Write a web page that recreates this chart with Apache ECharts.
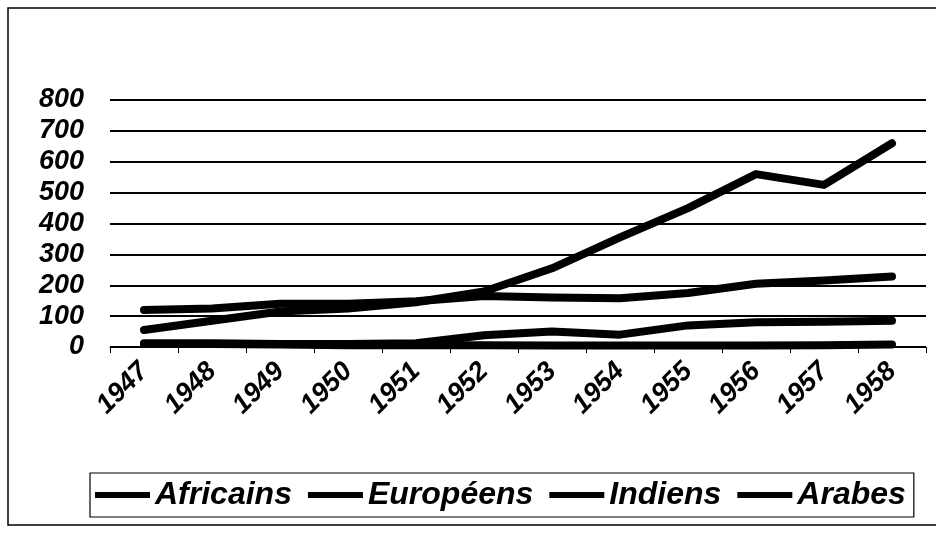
<!DOCTYPE html>
<html>
<head>
<meta charset="utf-8">
<script src="https://cdn.jsdelivr.net/npm/echarts@6/dist/echarts.min.js"></script>
<style>
html,body{margin:0;padding:0;background:#fff;}
#chart{width:936px;height:534px;}
</style>
</head>
<body>
<div id="chart"></div>
<script>
const years = ['1947','1948','1949','1950','1951','1952','1953','1954','1955','1956','1957','1958'];
const africains = [55, 85, 115, 125, 145, 180, 255, 355, 450, 560, 525, 660];
const europeens = [120, 125, 140, 140, 148, 165, 160, 158, 175, 205, 215, 228];
const indiens = [12, 12, 10, 10, 12, 38, 50, 40, 70, 80, 82, 85];
const arabes = [10, 10, 8, 6, 6, 6, 5, 5, 5, 5, 6, 8];
const yTicks = [0, 800, 100];

const FONT = '"Liberation Sans", Arial, sans-serif';
function mk(name, data) {
  return {
    name: name, type: 'line', data: data, showSymbol: false, symbol: 'none',
    lineStyle: { color: '#000', width: 8, cap: 'round', join: 'round' },
    itemStyle: { color: '#000' },
    emphasis: { disabled: true }, animation: false
  };
}
const chart = echarts.init(document.getElementById('chart'));
chart.setOption({
  animation: false,
  backgroundColor: '#fff',
  grid: { left: 110, right: 10, top: 100, bottom: 187 },
  graphic: [{
    type: 'rect', shape: { x: 8, y: 8, width: 940, height: 517 },
    style: { fill: 'none', stroke: '#000', lineWidth: 1.5 }, silent: true
  }],
  legend: {
    left: 90, top: 473,
    padding: [6, 8, 6, 5],
    borderColor: '#000', borderWidth: 1.2,
    itemWidth: 55, itemHeight: 6, itemGap: 16,
    icon: 'rect',
    textStyle: { fontFamily: FONT, fontSize: 32, fontWeight: 'bold', fontStyle: 'italic', color: '#000' },
    data: ['Africains', 'Européens', 'Indiens', 'Arabes']
  },
  xAxis: {
    type: 'category', data: years, boundaryGap: true,
    axisLine: { lineStyle: { color: '#000', width: 1 } },
    axisTick: { show: true, length: 6, lineStyle: { color: '#000' } },
    axisLabel: { rotate: 45, margin: 20, color: '#000', fontFamily: FONT, fontSize: 27, fontWeight: 'bold', fontStyle: 'italic', interval: 0 }
  },
  yAxis: {
    type: 'value', min: yTicks[0], max: yTicks[1], interval: yTicks[2],
    axisLine: { show: false }, axisTick: { show: false },
    splitLine: { lineStyle: { color: '#000', width: 2 } },
    axisLabel: { margin: 26, color: '#000', fontFamily: FONT, fontSize: 27, fontWeight: 'bold', fontStyle: 'italic' }
  },
  series: [mk('Africains', africains), mk('Européens', europeens), mk('Indiens', indiens), mk('Arabes', arabes)]
});
</script>
</body>
</html>
